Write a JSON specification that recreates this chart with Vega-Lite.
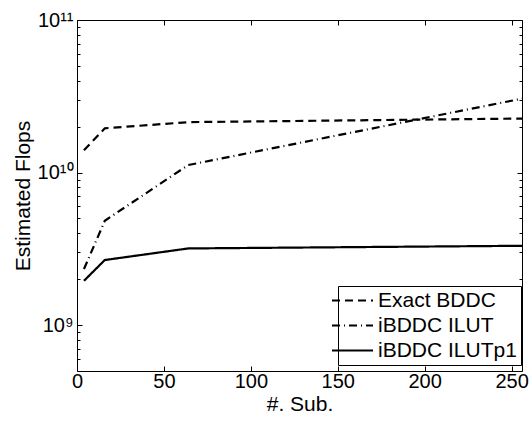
{
  "$schema": "https://vega.github.io/schema/vega-lite/v6.json",
  "width": 445,
  "height": 351,
  "autosize": {"type": "none"},
  "padding": {"left": 77, "top": 20, "right": 10, "bottom": 56},
  "background": "white",
  "config": {
    "font": "Liberation Sans",
    "view": {"stroke": "black", "strokeWidth": 1},
    "axis": {
      "domain": false,
      "grid": false,
      "tickColor": "black",
      "tickWidth": 1,
      "labelColor": "black",
      "labelFont": "Liberation Sans",
      "labelFontSize": 20,
      "titleFont": "Liberation Sans",
      "titleFontSize": 21,
      "titleFontWeight": "normal",
      "titleColor": "black"
    }
  },
  "data": {
    "values": [
      {"series": "Exact BDDC", "x": 4, "y": 1.40e10},
      {"series": "Exact BDDC", "x": 16, "y": 1.95e10},
      {"series": "Exact BDDC", "x": 64, "y": 2.14e10},
      {"series": "Exact BDDC", "x": 256, "y": 2.26e10},
      {"series": "iBDDC ILUT", "x": 4, "y": 2.33e9},
      {"series": "iBDDC ILUT", "x": 16, "y": 4.83e9},
      {"series": "iBDDC ILUT", "x": 64, "y": 1.12e10},
      {"series": "iBDDC ILUT", "x": 256, "y": 3.05e10},
      {"series": "iBDDC ILUTp1", "x": 4, "y": 1.95e9},
      {"series": "iBDDC ILUTp1", "x": 16, "y": 2.67e9},
      {"series": "iBDDC ILUTp1", "x": 64, "y": 3.18e9},
      {"series": "iBDDC ILUTp1", "x": 256, "y": 3.31e9}
    ]
  },
  "layer": [
    {
      "mark": {"type": "line", "color": "black", "strokeWidth": 2.2, "clip": true},
      "encoding": {
        "x": {
          "field": "x", "type": "quantitative",
          "scale": {"domain": [0, 256], "nice": false, "zero": false},
          "axis": {
            "orient": "bottom",
            "title": "#. Sub.",
            "values": [0, 50, 100, 150, 200, 250],
            "tickSize": -5,
            "labelPadding": 5,
            "titlePadding": 2,
            "labelFlush": false
          }
        },
        "y": {
          "field": "y", "type": "quantitative",
          "scale": {"type": "log", "domain": [5e8, 1e11], "nice": false},
          "axis": {
            "orient": "left",
            "title": "Estimated Flops",
            "values": [6e8, 7e8, 8e8, 9e8, 1e9, 2e9, 3e9, 4e9, 5e9, 6e9, 7e9, 8e9, 9e9, 1e10, 2e10, 3e10, 4e10, 5e10, 6e10, 7e10, 8e10, 9e10, 1e11],
            "labelExpr": "datum.value == 1e9 ? '10⁹' : datum.value == 1e10 ? '10¹⁰' : datum.value == 1e11 ? '10¹¹' : ''",
            "tickSize": {"condition": {"test": "datum.value == 1e9 || datum.value == 1e10 || datum.value == 1e11", "value": -5}, "value": -3},
            "labelPadding": 9,
            "titlePadding": 4,
            "labelFlush": false,
            "labelOverlap": false
          }
        },
        "strokeDash": {
          "field": "series", "type": "nominal",
          "scale": {"domain": ["Exact BDDC", "iBDDC ILUT", "iBDDC ILUTp1"], "range": [[8, 5], [8, 4, 1, 4], [1, 0]]},
          "legend": {
            "orient": "none",
            "legendX": 261,
            "legendY": 266,
            "title": null,
            "symbolType": "M-4,0H4",
            "symbolSize": 105,
            "symbolStrokeWidth": 2.2,
            "symbolStrokeColor": "black",
            "symbolFillColor": "transparent",
            "labelFont": "Liberation Sans",
            "labelFontSize": 21,
            "labelColor": "black",
            "labelOffset": 15,
            "strokeColor": "black",
            "fillColor": "white",
            "padding": 4,
            "rowPadding": 3
          }
        }
      }
    },
    {
      "mark": {"type": "line", "opacity": 0},
      "encoding": {
        "x": {
          "field": "x", "type": "quantitative",
          "axis": {"orient": "top", "title": null, "labels": false, "values": [0, 50, 100, 150, 200, 250], "tickSize": -5}
        },
        "y": {
          "field": "y", "type": "quantitative",
          "axis": {
            "orient": "right", "title": null, "labels": false,
            "values": [6e8, 7e8, 8e8, 9e8, 1e9, 2e9, 3e9, 4e9, 5e9, 6e9, 7e9, 8e9, 9e9, 1e10, 2e10, 3e10, 4e10, 5e10, 6e10, 7e10, 8e10, 9e10, 1e11],
            "tickSize": {"condition": {"test": "datum.value == 1e9 || datum.value == 1e10 || datum.value == 1e11", "value": -5}, "value": -3}
          }
        },
        "detail": {"field": "series"}
      }
    }
  ],
  "resolve": {"axis": {"x": "independent", "y": "independent"}}
}
